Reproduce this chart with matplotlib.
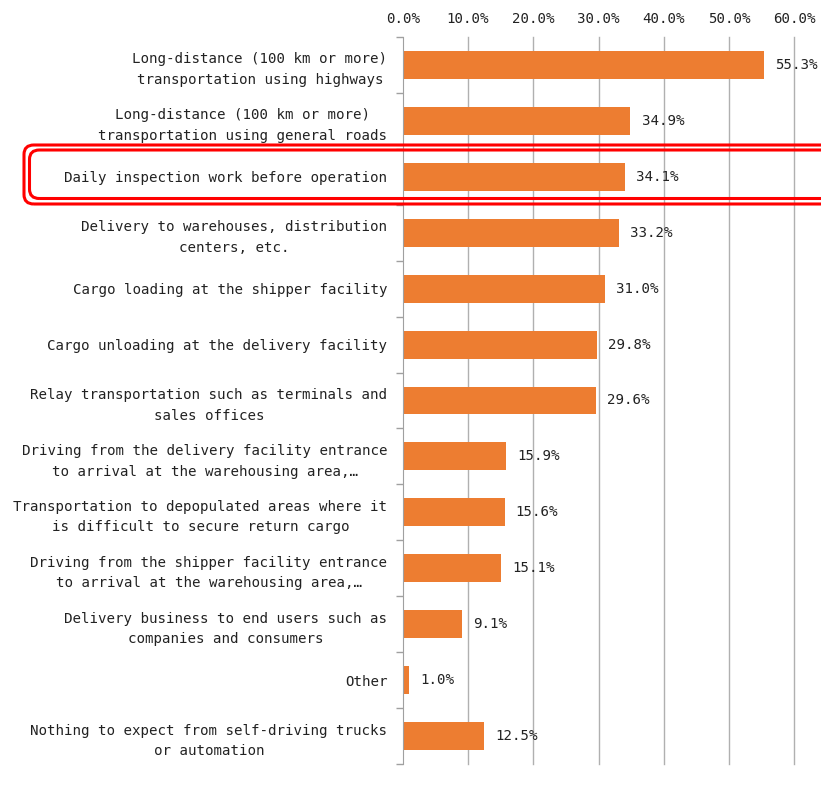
import matplotlib.pyplot as plt
from matplotlib.patches import FancyBboxPatch
from matplotlib.ticker import FixedLocator

plt.rcParams['font.family'] = ['DejaVu Sans Mono', 'DejaVu Sans']

categories = [
    "Long-distance (100 km or more)\ntransportation using highways",
    "Long-distance (100 km or more)\ntransportation using general roads",
    "Daily inspection work before operation",
    "Delivery to warehouses, distribution\ncenters, etc.",
    "Cargo loading at the shipper facility",
    "Cargo unloading at the delivery facility",
    "Relay transportation such as terminals and\nsales offices",
    "Driving from the delivery facility entrance\nto arrival at the warehousing area,\u2026",
    "Transportation to depopulated areas where it\nis difficult to secure return cargo",
    "Driving from the shipper facility entrance\nto arrival at the warehousing area,\u2026",
    "Delivery business to end users such as\ncompanies and consumers",
    "Other",
    "Nothing to expect from self-driving trucks\nor automation",
]
values = [55.3, 34.9, 34.1, 33.2, 31.0, 29.8, 29.6, 15.9, 15.6, 15.1, 9.1, 1.0, 12.5]
x_ticks = [0, 10, 20, 30, 40, 50, 60]
highlight_index = 2

W, H = 821, 785
fig = plt.figure(figsize=(W / 100, H / 100), dpi=100)
ax = fig.add_axes([402.7 / W, 1 - 764 / H, (794.3 - 402.7) / W, (764 - 37) / H])

n = len(categories)
pos = list(range(n))
bar_color = '#ED7D31'
ax.barh(pos, values, height=0.5, color=bar_color, zorder=3)

ax.set_ylim(n - 0.5, -0.5)
ax.set_xlim(0, 60)

ax.xaxis.tick_top()
ax.set_xticks(x_ticks)
ax.set_xticklabels([f"{t:.1f}%" for t in x_ticks], fontsize=10.2, color='#222222')
ax.tick_params(axis='x', length=0, pad=8)
for t in x_ticks[1:]:
    ax.axvline(t, color='#B0B0B0', linewidth=1.0, zorder=0, clip_on=False)

ax.set_yticks(pos)
ax.set_yticklabels(categories, fontsize=10.2, color='#222222', multialignment='center',
                   linespacing=1.6)
ax.tick_params(axis='y', which='major', length=0, pad=11)
ax.yaxis.set_minor_locator(FixedLocator([i - 0.5 for i in range(n + 1)]))
ax.tick_params(axis='y', which='minor', length=5, direction='out', color='#A0A0A0', width=1)

for s in ['top', 'right', 'bottom']:
    ax.spines[s].set_visible(False)
ax.spines['left'].set_color('#A0A0A0')
ax.spines['left'].set_zorder(4)

for i, v in enumerate(values):
    ax.annotate(f"{v:.1f}%", xy=(v, i), xytext=(8, 0), textcoords='offset points',
                ha='left', va='center', fontsize=10.2, color='#222222', zorder=5)

# Double-outlined highlight around one category row
for (x0, y0, x1, y1) in [(24, 145, 840, 204), (29.5, 150, 834, 198.5)]:
    box = FancyBboxPatch((x0 / W, 1 - y1 / H), (x1 - x0) / W, (y1 - y0) / H,
                         boxstyle="round,pad=0,rounding_size=0.012",
                         transform=fig.transFigure, fill=False,
                         edgecolor='#FF0000', linewidth=2.2, zorder=10)
    fig.patches.append(box)

fig.savefig('out.png', dpi=100)
